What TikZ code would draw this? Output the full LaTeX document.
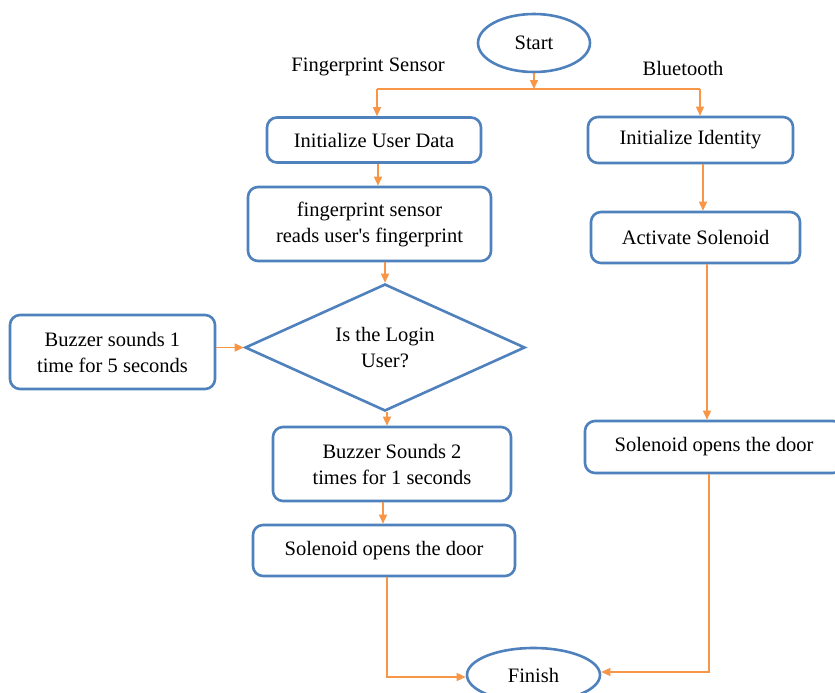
\documentclass[tikz,border=0pt]{standalone}
\usepackage{fontspec}
\setmainfont{Liberation Serif}
\usetikzlibrary{shapes.geometric,arrows.meta}
\definecolor{boxblue}{HTML}{4F81BD}
\definecolor{arrorange}{HTML}{F79646}
\begin{document}
\begin{tikzpicture}[x=1pt,y=-1pt,
  every node/.style={font=\fontsize{20.5}{26}\selectfont},
  proc/.style={draw=boxblue,line width=2.6pt,rounded corners=10pt,fill=white,align=center,inner sep=0pt},
  term/.style={draw=boxblue,line width=2.6pt,ellipse,fill=white,inner sep=0pt},
  decis/.style={draw=boxblue,line width=2.6pt,diamond,aspect=2.18,fill=white,align=center,inner sep=0pt},
  arr/.style={draw=arrorange,line width=1.4pt,-{Triangle[length=9pt,width=8pt]}},
  ln/.style={draw=arrorange,line width=1.4pt}]
\useasboundingbox (0,0) rectangle (835,693);
\fill[white] (0,0) rectangle (835,693);

\node[term,minimum width=112pt,minimum height=58pt] (start) at (534,43) {Start};
\node (fslabel) at (368,67) {Fingerprint Sensor};
\node (btlabel) at (683,68) {Bluetooth};

\node[proc,minimum width=214pt,minimum height=45pt] (iud) at (374,140) {Initialize User Data};
\node[proc,minimum width=205pt,minimum height=46pt] (iid) at (690.5,140) {Initialize Identity};
\node[proc,minimum width=243pt,minimum height=74pt] (fps) at (369.5,224) {fingerprint sensor\\reads user\textquotesingle s fingerprint};
\node[proc,minimum width=209pt,minimum height=51pt] (act) at (695.5,237.5) {Activate Solenoid};
\node[decis,minimum width=280pt,minimum height=127pt] (dia) at (385,347.5) {Is the Login\\User?};
\node[proc,minimum width=205pt,minimum height=74pt] (buz1) at (112.5,352) {Buzzer sounds 1\\time for 5 seconds};
\node[proc,minimum width=238pt,minimum height=74pt] (buz2) at (392,464) {Buzzer Sounds 2\\times for 1 seconds};
\node[proc,minimum width=262pt,minimum height=51pt] (sol1) at (384,550.5) {Solenoid opens the door};
\node[proc,minimum width=258pt,minimum height=52pt] (sol2) at (714,447) {Solenoid opens the door};
\node[term,minimum width=133pt,minimum height=54pt] (fin) at (533.5,675) {Finish};

% top split
\coordinate (split) at (534,89);
\coordinate (lsplit) at (377,89);
\coordinate (rsplit) at (700,89);
\draw[arr] (start.south) -- (split);
\draw[ln] (lsplit) -- (rsplit);
\draw[arr] (lsplit) -- (lsplit |- iud.north);
\draw[arr] (rsplit) -- (rsplit |- iid.north);

% left column
\coordinate (c1) at (378,0);
\draw[arr] (c1 |- iud.south) -- (c1 |- fps.north);
\draw[arr] (dia.north |- fps.south) -- (dia.north);
\draw[arr] (buz1.east |- dia.west) -- (dia.west);
\coordinate (c2) at (387,0);
\draw[arr] (c2 |- dia.south) -- (c2 |- buz2.north);
\coordinate (c3) at (383,0);
\draw[arr] (c3 |- buz2.south) -- (c3 |- sol1.north);
\coordinate (c4) at (387,677);
\draw[arr] (c4 |- sol1.south) -- (c4) -- (c4 -| fin.west);

% right column
\coordinate (c5) at (703,0);
\draw[arr] (c5 |- iid.south) -- (c5 |- act.north);
\coordinate (c6) at (707,0);
\draw[arr] (c6 |- act.south) -- (c6 |- sol2.north);
\coordinate (c7) at (709,672);
\draw[arr] (c7 |- sol2.south) -- (c7) -- (c7 -| fin.east);
\end{tikzpicture}
\end{document}
